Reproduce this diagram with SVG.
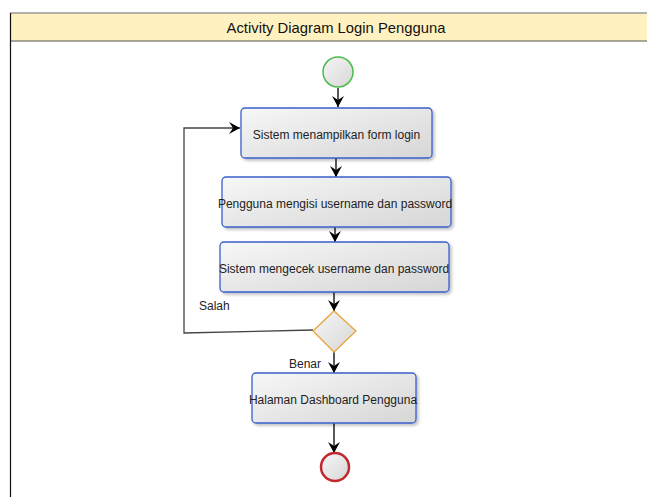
<svg xmlns="http://www.w3.org/2000/svg" width="647" height="497" viewBox="0 0 647 497">
  <defs>
    <linearGradient id="boxFill" x1="0" y1="0" x2="1" y2="1">
      <stop offset="0" stop-color="#f7f7f7"/>
      <stop offset="1" stop-color="#d6d6d6"/>
    </linearGradient>
    <filter id="shadow" x="-10%" y="-10%" width="130%" height="140%">
      <feDropShadow dx="2" dy="2" stdDeviation="1.5" flood-color="#000" flood-opacity="0.25"/>
    </filter>
    <marker id="arrow" viewBox="0 0 12 12" refX="11" refY="6" markerWidth="12" markerHeight="12" markerUnits="userSpaceOnUse" orient="auto">
      <path d="M0,0 L11,6 L0,12 L4,6 Z" fill="#000"/>
    </marker>
  </defs>
  <style>
    .action { fill: url(#boxFill); stroke: #3a5fcd; stroke-width: 1.3; filter: url(#shadow); }
    .label { font-family: "Liberation Sans", Arial, sans-serif; font-size: 12px; fill: #222; text-anchor: middle; }
    .guard { font-family: "Liberation Sans", Arial, sans-serif; font-size: 12px; fill: #222; }
    .flow { fill: none; stroke: #000; stroke-width: 1.3; marker-end: url(#arrow); }
    .back { fill: none; stroke: #444; stroke-width: 1.3; marker-end: url(#arrow); }
  </style>

  <rect width="647" height="497" fill="#fff"/>

  <!-- diagram frame with title band -->
  <g id="frame">
    <rect x="10" y="13" width="660" height="28" fill="#fff2c0"/>
    <line x1="10" y1="13" x2="647" y2="13" stroke="#999" stroke-width="1.5"/>
    <line x1="10" y1="41" x2="647" y2="41" stroke="#555" stroke-width="1.2"/>
    <line x1="10.5" y1="13" x2="10.5" y2="497" stroke="#111" stroke-width="1.2"/>
    <text x="336" y="33" font-family="Liberation Sans, Arial, sans-serif" font-size="14.8" fill="#111" text-anchor="middle">Activity Diagram Login Pengguna</text>
  </g>

  <!-- control flows -->
  <g id="connectors">
    <line class="flow" x1="338" y1="88" x2="338" y2="107"/>
    <line class="flow" x1="336" y1="158" x2="336" y2="177"/>
    <line class="flow" x1="335" y1="227" x2="335" y2="242"/>
    <line class="flow" x1="334" y1="292" x2="334" y2="311"/>
    <polyline class="back" points="313,330 184,333 184,128 240,128"/>
    <line class="flow" x1="334" y1="352" x2="334" y2="373"/>
    <line class="flow" x1="334" y1="423" x2="334" y2="453"/>
    <text class="guard" x="199" y="310">Salah</text>
    <text class="guard" x="289" y="368">Benar</text>
  </g>

  <g id="start">
    <circle cx="338" cy="72" r="15" fill="url(#boxFill)" stroke="#4cbb4c" stroke-width="1.5"/>
  </g>

  <g id="tampil-form">
    <rect class="action" x="241" y="108" width="191" height="50" rx="4"/>
    <text class="label" x="336.5" y="138.5">Sistem menampilkan form login</text>
  </g>

  <g id="isi-data">
    <rect class="action" x="222" y="177" width="229" height="50" rx="4"/>
    <text class="label" x="335" y="207.5">Pengguna mengisi username dan password</text>
  </g>

  <g id="cek-data">
    <rect class="action" x="220" y="242" width="229" height="50" rx="4"/>
    <text class="label" x="334" y="272.5">Sistem mengecek username dan password</text>
  </g>

  <g id="keputusan">
    <polygon points="334,311 356,331 334,352 313,331" fill="url(#boxFill)" stroke="#e8a53a" stroke-width="1.3"/>
  </g>

  <g id="dashboard">
    <rect class="action" x="252" y="373" width="164" height="50" rx="4"/>
    <text class="label" x="333" y="403.5">Halaman Dashboard Pengguna</text>
  </g>

  <g id="end">
    <circle cx="335" cy="467" r="14" fill="url(#boxFill)" stroke="#c0282d" stroke-width="2.5"/>
  </g>
</svg>
